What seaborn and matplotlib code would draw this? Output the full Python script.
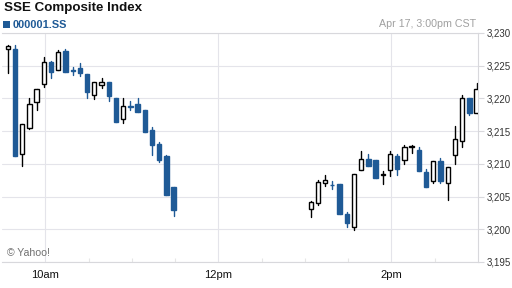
import matplotlib
matplotlib.use("Agg")
import matplotlib.pyplot as plt
from matplotlib.patches import Rectangle
from matplotlib.ticker import FixedLocator
import seaborn as sns
import pandas as pd

# ---- data (5-minute candles) ----
times = ["09:30", "09:35", "09:40", "09:45", "09:50", "09:55",
         "10:00", "10:05", "10:10", "10:15", "10:20", "10:25",
         "10:30", "10:35", "10:40", "10:45", "10:50", "10:55",
         "11:00", "11:05", "11:10", "11:15", "11:20", "11:25",
         "13:00", "13:05", "13:10", "13:15", "13:20", "13:25",
         "13:30", "13:35", "13:40", "13:45", "13:50", "13:55",
         "14:00", "14:05", "14:10", "14:15", "14:20", "14:25",
         "14:30", "14:35", "14:40", "14:45", "14:50", "14:55"]
opens = [3227.5, 3227.5, 3211.5, 3215.5, 3219.4, 3222.2,
         3225.5, 3224.3, 3227.2, 3224.3, 3224.6, 3223.7,
         3220.5, 3222.0, 3222.5, 3220.0, 3216.8, 3218.8,
         3219.1, 3218.2, 3215.2, 3213.0, 3211.2, 3206.5,
         3203.05, 3204.0, 3207.1, 3206.8, 3206.9, 3202.3,
         3200.4, 3209.0, 3210.8, 3210.6, 3208.3, 3209.0,
         3211.2, 3210.6, 3212.6, 3212.1, 3208.8, 3207.4,
         3210.4, 3207.0, 3211.3, 3213.5, 3220.1, 3217.8]
highs = [3228.1, 3228.1, 3216.1, 3220.0, 3221.4, 3226.3,
         3225.7, 3227.4, 3227.6, 3224.8, 3225.4, 3223.7,
         3222.5, 3223.1, 3222.5, 3220.0, 3220.0, 3219.6,
         3220.0, 3218.2, 3215.7, 3213.4, 3211.4, 3206.5,
         3204.3, 3207.6, 3208.3, 3207.4, 3206.9, 3202.6,
         3208.5, 3211.9, 3211.5, 3210.6, 3208.9, 3212.0,
         3211.5, 3212.9, 3212.9, 3212.5, 3209.2, 3210.4,
         3210.9, 3209.5, 3215.8, 3220.6, 3220.1, 3222.3]
lows = [3223.9, 3211.25, 3209.7, 3215.3, 3218.2, 3221.8,
        3223.1, 3224.3, 3224.1, 3223.6, 3223.5, 3220.0,
        3219.9, 3221.6, 3219.6, 3216.4, 3216.3, 3218.2,
        3218.0, 3214.9, 3211.4, 3210.3, 3205.2, 3202.1,
        3201.9, 3203.7, 3206.6, 3206.1, 3202.4, 3200.4,
        3199.9, 3209.0, 3209.6, 3207.9, 3206.9, 3208.1,
        3208.3, 3210.0, 3211.6, 3208.9, 3206.5, 3207.0,
        3207.0, 3204.5, 3210.0, 3212.5, 3217.5, 3217.7]
closes = [3228.05, 3211.25, 3216.1, 3219.2, 3221.4, 3225.6,
          3224.1, 3227.1, 3224.1, 3224.25, 3223.9, 3221.0,
          3222.5, 3222.5, 3220.3, 3216.4, 3218.9, 3218.75,
          3218.0, 3214.9, 3212.9, 3210.6, 3205.2, 3203.0,
          3204.2, 3207.3, 3207.6, 3206.75, 3202.4, 3200.9,
          3208.5, 3210.8, 3209.6, 3207.9, 3208.35, 3211.5,
          3209.2, 3212.5, 3212.65, 3208.9, 3206.5, 3210.4,
          3207.4, 3209.5, 3213.8, 3220.0, 3217.7, 3221.5]

y_ticks = [3195, 3200, 3205, 3210, 3215, 3220, 3225, 3230]
y_tick_labels = ["3,195", "3,200", "3,205", "3,210", "3,215", "3,220", "3,225", "3,230"]
x_tick_times = ["10:00", "12:00", "14:00"]
x_tick_labels = ["10am", "12pm", "2pm"]
minor_tick_times = ["10:30", "11:00", "11:30", "12:30", "13:00", "13:30", "14:30"]
session_start = "09:30"
session_end = "15:00"

title = "SSE Composite Index"
symbol = "000001.SS"
stamp = "Apr 17, 3:00pm CST"
credit = "\u00a9 Yahoo!"

# ---- style ----
sns.set_theme(style="white")
plt.rcParams["font.family"] = ["Liberation Sans", "DejaVu Sans"]

BLUE = "#1f5a96"
GRID = "#e4e4ea"


def to_min(s):
    h, m = map(int, s.split(":"))
    return (h - 9) * 60 + m - 30


df = pd.DataFrame(dict(time=times, open=opens, high=highs, low=lows, close=closes))
df["x"] = df["time"].map(to_min) + 4
df["dir"] = ["up" if c >= o else "down" for o, c in zip(df["open"], df["close"])]
df["id"] = range(len(df))

wicks = pd.concat([
    df[["id", "x", "dir"]].assign(price=df["low"]),
    df[["id", "x", "dir"]].assign(price=df["high"]),
])

fig = plt.figure(figsize=(5.12, 2.88), dpi=100)
ax = fig.add_axes([2 / 512, 26 / 288, 476 / 512, 229 / 288])

sns.lineplot(data=wicks, x="x", y="price", units="id", estimator=None,
             hue="dir", palette={"up": "black", "down": BLUE},
             legend=False, lw=1.0, ax=ax, zorder=2)

up = df[df["dir"] == "up"]
dn = df[df["dir"] == "down"]
ax.bar(up["x"], (up["close"] - up["open"]).clip(lower=0.08), bottom=up["open"],
       width=3.0, facecolor="white", edgecolor="black", linewidth=1.0, zorder=3)
ax.bar(dn["x"], (dn["close"] - dn["open"]).clip(upper=-0.08), bottom=dn["open"],
       width=3.0, facecolor=BLUE, edgecolor=BLUE, linewidth=1.0, zorder=3)

ax.set_xlim(to_min(session_start), to_min(session_end))
ax.set_ylim(y_ticks[0], y_ticks[-1])
ax.set_xlabel("")
ax.set_ylabel("")

ax.set_xticks([to_min(t) for t in x_tick_times])
ax.set_xticklabels(x_tick_labels)
ax.xaxis.set_minor_locator(FixedLocator([to_min(t) for t in minor_tick_times]))
ax.set_yticks(y_ticks)
ax.set_yticklabels(y_tick_labels)
ax.yaxis.tick_right()

ax.grid(True, which="major", color=GRID, linewidth=0.8, zorder=0)
ax.set_axisbelow(True)
for side in ["top", "bottom", "right"]:
    ax.spines[side].set_visible(True)
    ax.spines[side].set_color("#d8d8dc")
    ax.spines[side].set_linewidth(0.8)
ax.spines["left"].set_visible(False)

ax.tick_params(axis="x", which="major", length=0, pad=5.5, labelsize=8, labelcolor="#111111")
ax.tick_params(axis="x", which="minor", bottom=True, direction="in", length=3,
               width=0.8, color="#e6e6e6")
ax.tick_params(axis="y", which="major", right=True, left=False, length=4, width=0.8,
               color="#d8d8dc", pad=2, labelsize=7, labelcolor="#333333")

fig.text(3.5 / 512, 1 - 8.5 / 288, title, fontsize=9.6, fontweight="bold",
         color="#111111", ha="left", va="center")
fig.patches.append(Rectangle((3 / 512, 1 - 28.3 / 288), 6.5 / 512, 7.5 / 288,
                             transform=fig.transFigure, facecolor=BLUE,
                             edgecolor="none"))
fig.text(12.3 / 512, 1 - 24.5 / 288, symbol, fontsize=7.9, fontweight="bold",
         color=BLUE, ha="left", va="center")
fig.text(476 / 512, 1 - 24 / 288, stamp, fontsize=7.7, color="#a0a0a0",
         ha="right", va="center")
fig.text(7 / 512, 1 - 253.5 / 288, credit, fontsize=7.6, color="#707070",
         ha="left", va="center")

fig.savefig("out.png", dpi=100)
